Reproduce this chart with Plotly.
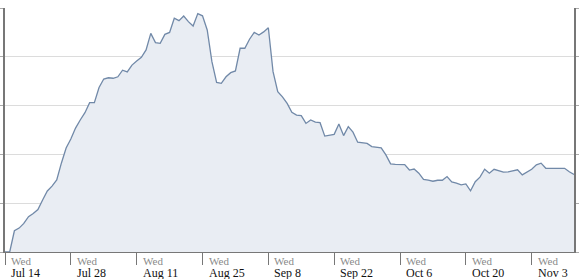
import pandas as pd
import plotly.graph_objects as go

start_date = "2010-07-14"
values = [
    0, 0, 8.7, 9.8, 11.7, 14.5, 15.8, 17.4, 21.3, 25.0, 27.0,
    29.5, 36.5, 42.6, 46.3, 50.8, 54.1, 57.1, 61.2, 61.2, 67.4,
    70.9, 71.4, 71.2, 71.8, 74.5, 73.8, 76.6, 78.3, 79.8, 82.8,
    89.6, 85.8, 85.5, 89.2, 90.0, 95.8, 94.8, 96.7, 94.4, 92.6,
    97.7, 96.8, 91.0, 78.0, 69.5, 69.1, 71.8, 73.5, 74.2, 83.5,
    83.5, 87.2, 90.0, 88.9, 90.2, 91.9, 73.9, 65.7, 63.6, 60.9,
    57.3, 56.1, 55.9, 52.7, 54.1, 53.2, 53.0, 47.5, 48.0, 48.2,
    52.5, 47.7, 51.4, 49.1, 45.0, 44.8, 44.5, 43.2, 43.0, 42.7,
    39.8, 36.1, 35.9, 35.7, 35.8, 33.6, 34.0, 32.3, 29.8, 29.5,
    29.0, 29.4, 29.4, 30.9, 28.7, 28.2, 27.5, 27.9, 25.1, 28.8,
    30.7, 33.9, 32.3, 33.9, 33.2, 32.7, 32.8, 33.4, 33.7, 31.6,
    32.9, 33.9, 35.7, 36.4, 34.3, 34.3, 34.5, 34.4, 34.3, 32.9,
    31.8,
]
dates = pd.date_range(start_date, periods=len(values), freq="D")

tick_dates = ["2010-07-14", "2010-07-28", "2010-08-11", "2010-08-25", "2010-09-08",
              "2010-09-22", "2010-10-06", "2010-10-20", "2010-11-03"]
tick_weekday = "Wed"
tick_labels = ["Jul 14", "Jul 28", "Aug 11", "Aug 25", "Sep 8",
               "Sep 22", "Oct 6", "Oct 20", "Nov 3"]

y_ticks = [0, 20, 40, 60, 80, 100]
serif = "Liberation Serif"

fig = go.Figure()
fig.add_trace(go.Scatter(
    x=dates, y=values, mode="lines",
    line=dict(color="#7189a8", width=1.3),
    fill="tozeroy", fillcolor="#e9edf3",
    hoverinfo="skip",
))

for d, lab in zip(tick_dates, tick_labels):
    fig.add_annotation(x=d, y=0, xref="x", yref="paper", text=tick_weekday,
                       showarrow=False, xanchor="left", yanchor="middle",
                       xshift=4, yshift=-9,
                       font=dict(family=serif, size=11, color="#8a8a8a"))
    fig.add_annotation(x=d, y=0, xref="x", yref="paper", text=lab,
                       showarrow=False, xanchor="left", yanchor="middle",
                       xshift=4, yshift=-21,
                       font=dict(family=serif, size=12, color="#111"))

fig.update_layout(
    width=581, height=279,
    margin=dict(l=5, r=7, t=8, b=27),
    paper_bgcolor="white", plot_bgcolor="white",
    showlegend=False,
    font=dict(family=serif, size=12, color="#000"),
)
fig.update_xaxes(
    range=["2010-07-14", "2010-11-12"],
    tickmode="array", tickvals=tick_dates, showticklabels=False,
    ticks="outside", ticklen=12, tickcolor="#777", tickwidth=1,
    showline=True, linecolor="#777", linewidth=1,
    showgrid=False, zeroline=False, automargin=False,
)
fig.update_yaxes(
    range=[0, 100], tickmode="array", tickvals=y_ticks,
    showticklabels=False, automargin=False,
    ticks="outside", ticklen=3, tickcolor="#aaa",
    showline=True, linecolor="#777", linewidth=1.5, mirror="ticks",
    showgrid=True, gridcolor="#dcdcdc", gridwidth=1,
    zeroline=False,
)

fig.write_html("out.html")
